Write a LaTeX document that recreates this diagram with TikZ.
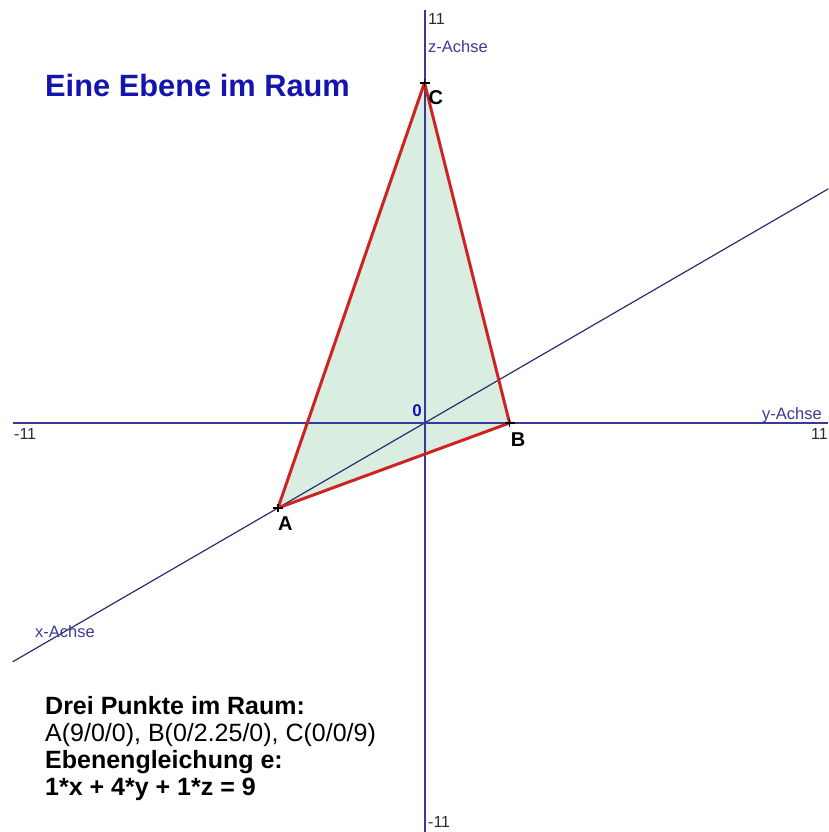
\documentclass[tikz,border=0pt]{standalone}
\usepackage{fontspec}
\setmainfont{Liberation Sans}
\usetikzlibrary{positioning}
\definecolor{achsblau}{RGB}{58,58,150}
\definecolor{titelblau}{RGB}{20,20,175}
\definecolor{kantenrot}{RGB}{205,35,35}
\definecolor{ebenengruen}{RGB}{218,237,225}
\definecolor{zahlgrau}{RGB}{40,40,60}

\begin{document}
\begin{tikzpicture}[x=1pt,y=-1pt,
  achse/.style={achsblau,line width=2pt},
  xachse/.style={achsblau!75!black,line width=1.2pt},
  kante/.style={kantenrot,line width=3pt,line join=round},
  kreuz/.style={black,line width=1.8pt},
  achslabel/.style={achsblau,inner sep=0pt,font=\fontsize{16.5}{18}\selectfont},
  zahl/.style={zahlgrau,inner sep=0pt,font=\fontsize{16}{18}\selectfont},
  punkt/.style={inner sep=0pt,font=\fontsize{20}{22}\selectfont\bfseries},
  zeile/.style={anchor=base west,inner sep=0pt,font=\fontsize{25}{27}\selectfont}]
\useasboundingbox (0,0) rectangle (828,832);
% Raumkoordinaten (x schraeg, y waagrecht, z senkrecht)
\begin{scope}[shift={(424.5,423)},x={(-16.28pt,-9.44pt)},y={(37.8pt,0pt)},z={(0pt,37.8pt)}]
\coordinate (O) at (0,0,0);
\coordinate (A) at (9,0,0);
\coordinate (B) at (0,2.25,0);
\coordinate (C) at (0,0,9);
\coordinate (xa) at (25.3,0,0);
\coordinate (xe) at (-24.8,0,0);
\end{scope}
\coordinate (ya) at (13,423); \coordinate (ye) at (828,423);
\coordinate (za) at (424.5,10); \coordinate (ze) at (424.5,832);
\fill[ebenengruen] (A) -- (B) -- (C) -- cycle;
\draw[xachse] (xa) -- (xe);
\draw[achse] (ya) -- (ye);
\draw[achse] (za) -- (ze);
\draw[kante] (A) -- (B) -- (C) -- cycle;
\foreach \p in {A,B,C} {\draw[kreuz] ([xshift=-5pt]\p) -- ([xshift=5pt]\p) ([yshift=-4pt]\p) -- ([yshift=4pt]\p);}
\node[punkt,below right=9pt and 0pt of A] (lA) {A};
\node[punkt,below right=10pt and 1pt of B] (lB) {B};
\node[punkt,below right=8pt and 4pt of C] (lC) {C};
\node[titelblau,inner sep=0pt,font=\fontsize{17}{18}\selectfont\bfseries,above left=6pt and 2.5pt of O] (l0) {0};
\node[zahl,below right=5pt and 1pt of ya] (ymin) {-11};
\node[zahl,below left=5pt and 0pt of ye] (ymax) {11};
\node[achslabel,anchor=base east] (ylab) at ([shift={(-6,-4)}]ye) {y-Achse};
\node[zahl,below right=3pt and 3.5pt of za] (zmax) {11};
\node[achslabel,anchor=base west] (zlab) at ([shift={(3.5,43)}]za) {z-Achse};
\node[zahl,anchor=north west] (zmin) at ([shift={(3.5,-16)}]ze) {-11};
\node[achslabel,anchor=base west] (xlab) at (35,637) {x-Achse};
\node[titelblau,anchor=base west,inner sep=0pt,font=\fontsize{30.8}{36}\selectfont\bfseries] (titel) at (45,97) {Eine Ebene im Raum};
\node[zeile] (z1) at (45,714) {\bfseries Drei Punkte im Raum:};
\node[zeile] (z2) at (45,741) {A(9/0/0), B(0/2.25/0), C(0/0/9)};
\node[zeile] (z3) at (45,768) {\bfseries Ebenengleichung e:};
\node[zeile] (z4) at (45,795) {\bfseries 1*x + 4*y + 1*z = 9};
\end{tikzpicture}
\end{document}
